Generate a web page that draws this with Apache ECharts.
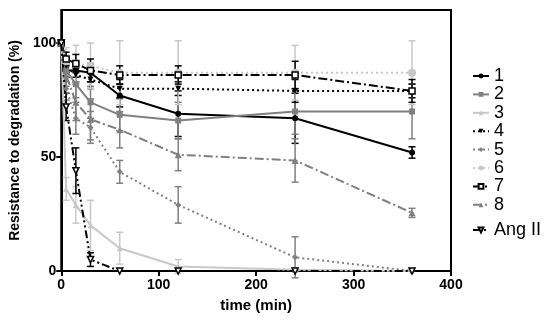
<!DOCTYPE html>
<html>
<head>
<meta charset="utf-8">
<script src="https://cdn.jsdelivr.net/npm/echarts@6/dist/echarts.min.js"></script>
<style>html,body{margin:0;padding:0;background:#fff;}#c{width:550px;height:321px;}</style>
</head>
<body>
<div id="c"></div>
<script>
const times = [0, 5, 15, 30, 60, 120, 240, 360];
const seriesNames = ['1', '2', '3', '4', '5', '6', '7', '8', 'Ang II'];
const xTicks = [0, 100, 200, 300, 400];
const yTicks = [0, 50, 100];

const v1 = [100, 88, 88, 87, 77, 69, 67, 52];
const e1 = [0, 3, 3, 4, 5, 10, 11, 2.5];
const v2 = [100, 88, 82, 74, 68.5, 66, 70, 70];
const e2 = [0, 5, 6, 7, 7, 8, 10, 12];
const v3 = [100, 36, 29, 20, 10, 2, 0.5, 0];
const e3 = [0, 5, 8, 11, 7, 3, 1, 0];
const v4 = [100, 90, 86, 84, 80, 80, 79, 79];
const e4 = [0, 3, 3, 4, 4, 3, 5, 3];
const v5 = [100, 80, 67, 63, 43.5, 29, 6, 0];
const e5 = [0, 5, 7, 7, 5, 8, 9, 0];
const v6 = [100, 92, 91, 90, 87, 87, 87, 87];
const e6 = [0, 6, 8, 10, 14, 14, 12, 14];
const v7 = [100, 93, 91, 88, 86, 86, 86, 79];
const e7 = [0, 3, 4, 5, 4, 4, 6, 5];
const v8 = [100, 86, 74, 66.5, 62, 51, 48.5, 25.5];
const e8 = [0, 5, 8, 9, 8, 7, 9.5, 2];
const vAng = [100, 72, 44, 5, 0, 0, 0, 0];
const eAng = [0, 6, 10, 3, 0, 0, 0, 0];

const values = [v1, v2, v3, v4, v5, v6, v7, v8, vAng];
const errors = [e1, e2, e3, e4, e5, e6, e7, e8, eAng];

const BLACK = '#000000', GREY = '#808080', LIGHT = '#c8c8c8';
const TRI_DOWN = 'path://M0,0 L10,0 L5,9 Z';
const styles = [
  {color: BLACK, dash: 'solid', symbol: 'circle', size: 6, fill: BLACK},
  {color: GREY, dash: 'solid', symbol: 'rect', size: 6, fill: GREY},
  {color: LIGHT, dash: 'solid', symbol: 'triangle', size: 6, fill: LIGHT},
  {color: BLACK, dash: [2, 3], symbol: TRI_DOWN, size: 6, fill: BLACK},
  {color: GREY, dash: [2, 3], symbol: 'diamond', size: 6, fill: GREY},
  {color: LIGHT, dash: [2, 3], symbol: 'circle', size: 8, fill: LIGHT},
  {color: BLACK, dash: [9, 3, 2, 3], symbol: 'rect', size: 6, fill: '#fff'},
  {color: GREY, dash: [9, 3, 2, 3], symbol: 'triangle', size: 7, fill: GREY},
  {color: BLACK, dash: [8, 3, 2, 3, 2, 3], symbol: TRI_DOWN, size: 6, fill: '#fff'}
];

const FONT = 'Liberation Sans, Arial, sans-serif';
const series = [];
seriesNames.forEach((name, i) => {
  const st = styles[i];
  series.push({
    type: 'custom',
    name: name + '_err',
    silent: true,
    z: 1,
    clip: false,
    data: times.map((t, k) => [t, values[i][k], errors[i][k]]),
    renderItem: function (params, api) {
      const x = api.value(0), y = api.value(1), e = api.value(2);
      if (!e) return null;
      const top = api.coord([x, y + e]);
      const bot = api.coord([x, y - e]);
      const h = 3.5;
      const s = {stroke: st.color, lineWidth: 1.5};
      return {
        type: 'group',
        children: [
          {type: 'line', shape: {x1: top[0], y1: top[1], x2: bot[0], y2: bot[1]}, style: s},
          {type: 'line', shape: {x1: top[0] - h, y1: top[1], x2: top[0] + h, y2: top[1]}, style: s},
          {type: 'line', shape: {x1: bot[0] - h, y1: bot[1], x2: bot[0] + h, y2: bot[1]}, style: s}
        ]
      };
    }
  });
  series.push({
    type: 'line',
    name: name,
    z: 2,
    clip: false,
    data: times.map((t, k) => [t, values[i][k]]),
    symbol: st.symbol,
    symbolSize: st.size,
    showAllSymbol: true,
    lineStyle: {color: st.color, width: 2, type: st.dash},
    itemStyle: {color: st.fill, borderColor: st.color, borderWidth: st.fill === '#fff' ? 1.5 : 0},
    emphasis: {disabled: true},
    animation: false
  });
});

const chart = echarts.init(document.getElementById('c'));
chart.setOption({
  animation: false,
  backgroundColor: '#fff',
  grid: {left: 60, right: 99, top: 10, bottom: 50, show: true, borderColor: BLACK, borderWidth: 2, containLabel: false},
  legend: [
    {
      data: seriesNames.slice(0, 8),
      orient: 'vertical', left: 467, top: 62,
      itemWidth: 16, itemHeight: 6, itemGap: 0.4,
      textStyle: {fontFamily: FONT, fontSize: 18, color: '#000', lineHeight: 18},
      selectedMode: false
    },
    {
      data: ['Ang II'],
      orient: 'vertical', left: 467, top: 216,
      itemWidth: 16, itemHeight: 6,
      textStyle: {fontFamily: FONT, fontSize: 18, color: '#000', lineHeight: 18},
      selectedMode: false
    }
  ],
  xAxis: {
    type: 'value', min: 0, max: 400, interval: 100,
    name: 'time (min)', nameLocation: 'middle', nameGap: 27,
    nameTextStyle: {fontFamily: FONT, fontSize: 15, fontWeight: 'bold', color: '#000'},
    axisLine: {lineStyle: {color: BLACK, width: 2}},
    axisTick: {length: 5, lineStyle: {color: BLACK, width: 2}, customValues: xTicks},
    axisLabel: {fontFamily: FONT, fontSize: 14, fontWeight: 'bold', color: '#000', margin: 7, customValues: xTicks},
    splitLine: {show: false}
  },
  yAxis: {
    type: 'value', min: 0, max: 114.5,
    name: 'Resistance to degradation (%)', nameLocation: 'middle', nameGap: 37,
    nameTextStyle: {fontFamily: FONT, fontSize: 14, fontWeight: 'bold', color: '#000'},
    axisLine: {show: true, lineStyle: {color: BLACK, width: 2}},
    axisTick: {show: true, length: 5, lineStyle: {color: BLACK, width: 2}, customValues: yTicks},
    axisLabel: {fontFamily: FONT, fontSize: 14, fontWeight: 'bold', color: '#000', margin: 5, customValues: yTicks},
    splitLine: {show: false}
  },
  series: series
});
</script>
</body>
</html>
